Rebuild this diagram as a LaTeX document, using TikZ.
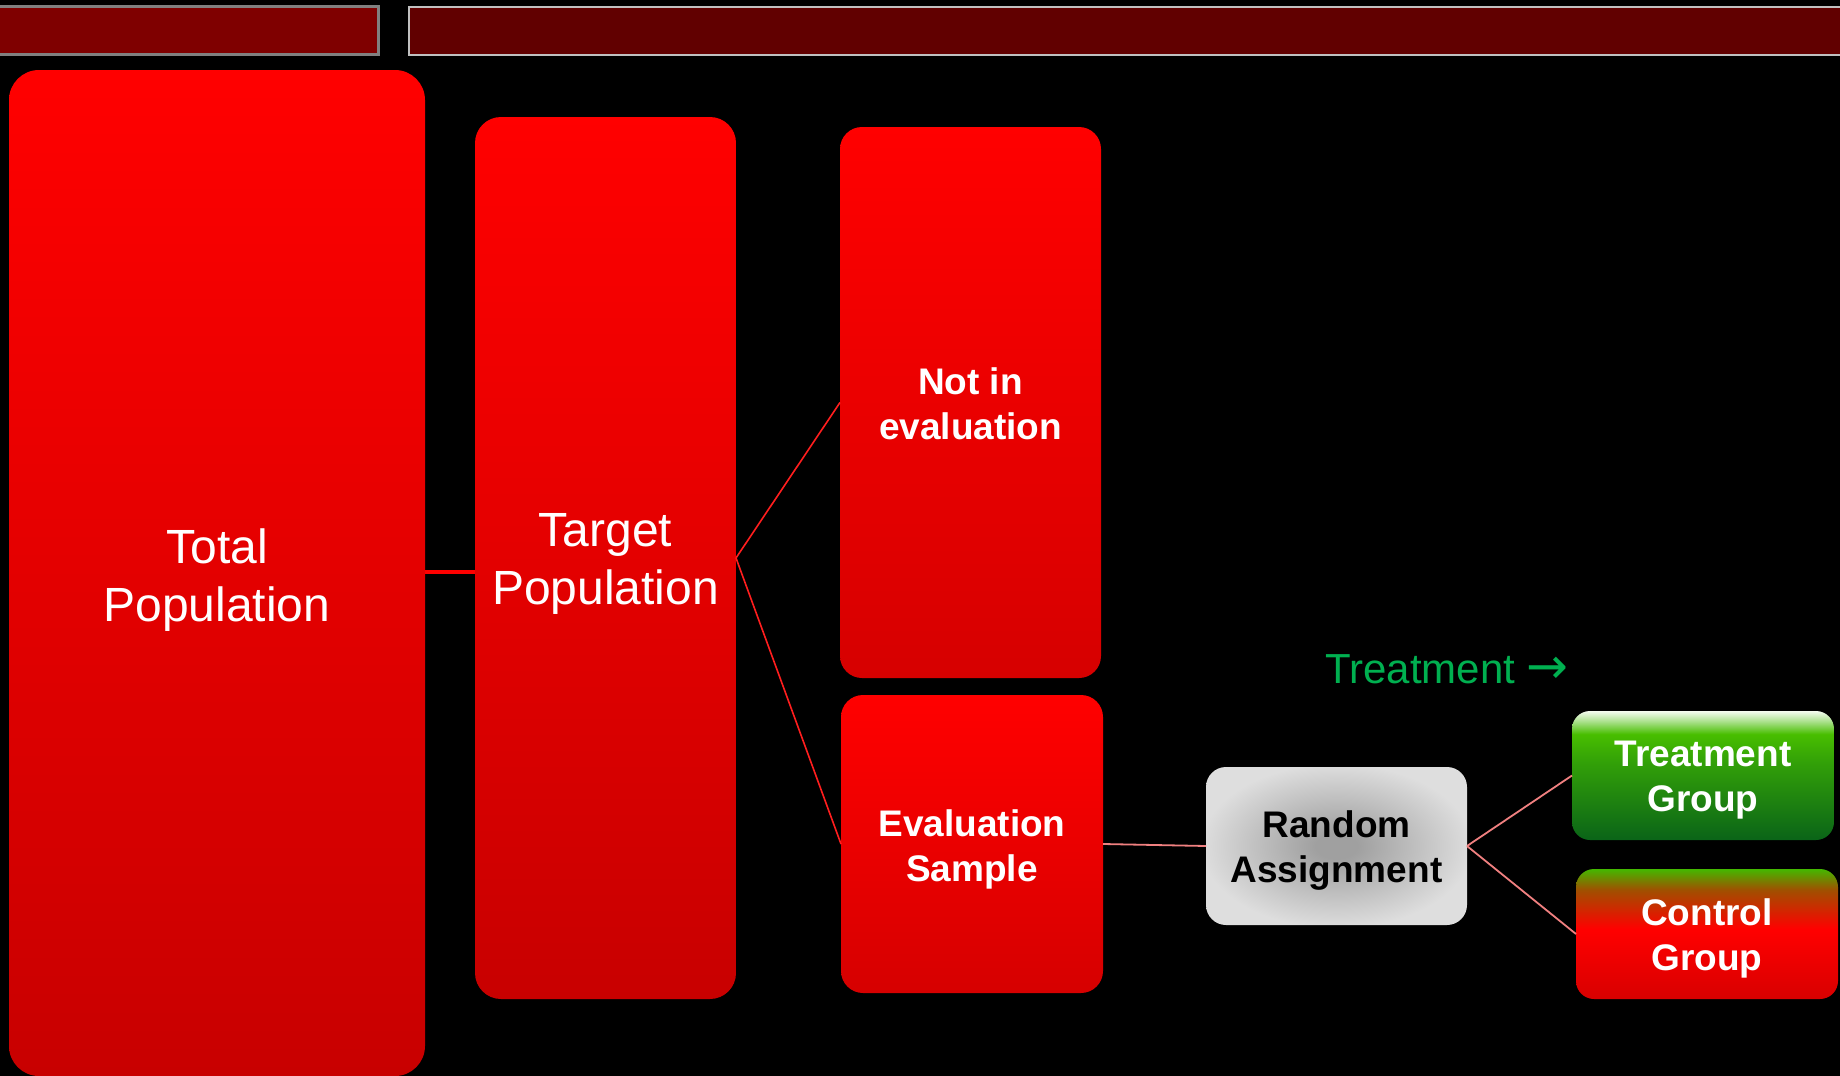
\documentclass[tikz,border=0pt]{standalone}
\usepackage{fontspec}
\setmainfont{Liberation Sans}
\newfontfamily\arrowfont{DejaVu Sans}
\definecolor{redtop}{RGB}{255,0,0}
\definecolor{redbot}{RGB}{200,0,0}
\definecolor{redbotb}{RGB}{214,0,0}
\definecolor{barA}{RGB}{127,0,0}
\definecolor{barB}{RGB}{97,0,0}
\definecolor{barAline}{RGB}{128,128,128}
\definecolor{barBline}{RGB}{192,192,192}
\definecolor{linkred}{RGB}{255,30,30}
\definecolor{linkpink}{RGB}{240,128,128}
\definecolor{labgreen}{RGB}{0,176,80}
\definecolor{gwhite}{RGB}{245,252,240}
\definecolor{gpale}{RGB}{170,225,140}
\definecolor{glight}{RGB}{72,190,0}
\definecolor{gmid}{RGB}{50,160,8}
\definecolor{gdark}{RGB}{10,100,24}
\definecolor{cgreen}{RGB}{68,184,0}
\definecolor{cbrown}{RGB}{160,80,0}
\definecolor{cred}{RGB}{255,0,0}
\definecolor{cdark}{RGB}{216,0,0}
\definecolor{raIn}{RGB}{160,160,160}
\definecolor{raOut}{RGB}{222,222,222}
\pgfdeclareverticalshading{treatshade}{100bp}{color(0bp)=(gdark); color(25bp)=(gdark); color(55bp)=(gmid); color(66bp)=(glight); color(71bp)=(gpale); color(75bp)=(gwhite); color(100bp)=(gwhite)}
\pgfdeclareverticalshading{ctrlshade}{100bp}{color(0bp)=(cdark); color(25bp)=(cdark); color(52bp)=(cred); color(67bp)=(cbrown); color(75bp)=(cgreen); color(100bp)=(cgreen)}
\pgfdeclareradialshading{rashade}{\pgfpoint{0bp}{0bp}}{color(0bp)=(raIn); color(4bp)=(raIn); color(26bp)=(raOut); color(50bp)=(raOut)}
\tikzset{
  box/.style={draw=none, inner sep=0pt, outer sep=0pt, rounded corners=#1},
  box/.default=22pt,
  redbox/.style={box=#1, top color=redtop, bottom color=redbot},
  redbox/.default=22pt,
  bigtext/.style={text=white, align=center, inner sep=0pt, font=\fontsize{48}{58}\selectfont},
  boldtext/.style={text=white, align=center, inner sep=0pt, font=\fontsize{37}{45}\selectfont\bfseries},
  thicklink/.style={draw=redtop, line width=4pt},
  redlink/.style={draw=linkred, line width=1.6pt},
  pinklink/.style={draw=linkpink, line width=1.8pt},
  topbar/.style={inner sep=0pt, outer sep=0pt}
}
\begin{document}
\begin{tikzpicture}[x=1pt,y=-1pt]
\useasboundingbox (0,0) rectangle (1840,1076);
\fill[black] (0,0) rectangle (1840,1076);
% top bars
\node[topbar, fill=barA, draw=barAline, line width=3pt, minimum width=390pt, minimum height=48pt] (barleft) at (183.5,30.5) {};
\node[topbar, fill=barB, draw=barBline, line width=2pt, minimum width=1460pt, minimum height=48pt] (barright) at (1139,30.5) {};
% boxes
\node[redbox=30pt, minimum width=416pt, minimum height=1006pt] (total) at (217,573) {};
\node[redbox=26pt, minimum width=261pt, minimum height=882pt] (target) at (605.5,558) {};
\node[redbox=22pt, minimum width=261pt, minimum height=551pt, bottom color=redbotb] (noteval) at (970.5,402.5) {};
\node[redbox=22pt, minimum width=262pt, minimum height=298pt, bottom color=redbotb] (evalsample) at (972,844) {};
\node[box=20pt, minimum width=261pt, minimum height=158pt, shading=rashade] (random) at (1336.5,846) {};
\node[box=18pt, minimum width=262pt, minimum height=129pt, shading=treatshade] (treatgroup) at (1703,775.5) {};
\node[box=18pt, minimum width=262pt, minimum height=130pt, shading=ctrlshade] (control) at (1707,934) {};
% texts
\node[bigtext] (totaltxt) at ([yshift=-7pt]total.center) {Total\\Population};
\node[bigtext] (targettxt) at ([yshift=-6pt]target.center) {Target\\Population};
\node[boldtext] (notevaltxt) at ([yshift=-1pt]noteval.center) {Not in\\evaluation};
\node[boldtext] (evaltxt) at ([yshift=-5pt]evalsample.center) {Evaluation\\Sample};
\node[boldtext, text=black] (randomtxt) at ([yshift=-5pt]random.center) {Random\\Assignment};
\node[boldtext] (treattxt) at ([yshift=-5pt]treatgroup.center) {Treatment\\Group};
\node[boldtext] (controltxt) at ([yshift=-4pt]control.center) {Control\\Group};
% label
\node[inner sep=0pt, text=labgreen, font=\fontsize{42}{50}\selectfont, anchor=base west] (treatlabel) at (1325,683) {Treatment {\arrowfont\fontsize{50}{50}\selectfont →}};
% connectors
\draw[thicklink] (total.east |- 0,572) -- (target.west |- 0,572);
\draw[redlink] (target.east) -- (noteval.west);
\draw[redlink] (target.east) -- (evalsample.west);
\draw[pinklink] (evalsample.east) -- (random.west);
\draw[pinklink] (random.east) -- (treatgroup.west);
\draw[pinklink] (random.east) -- (control.west);
\end{tikzpicture}
\end{document}
